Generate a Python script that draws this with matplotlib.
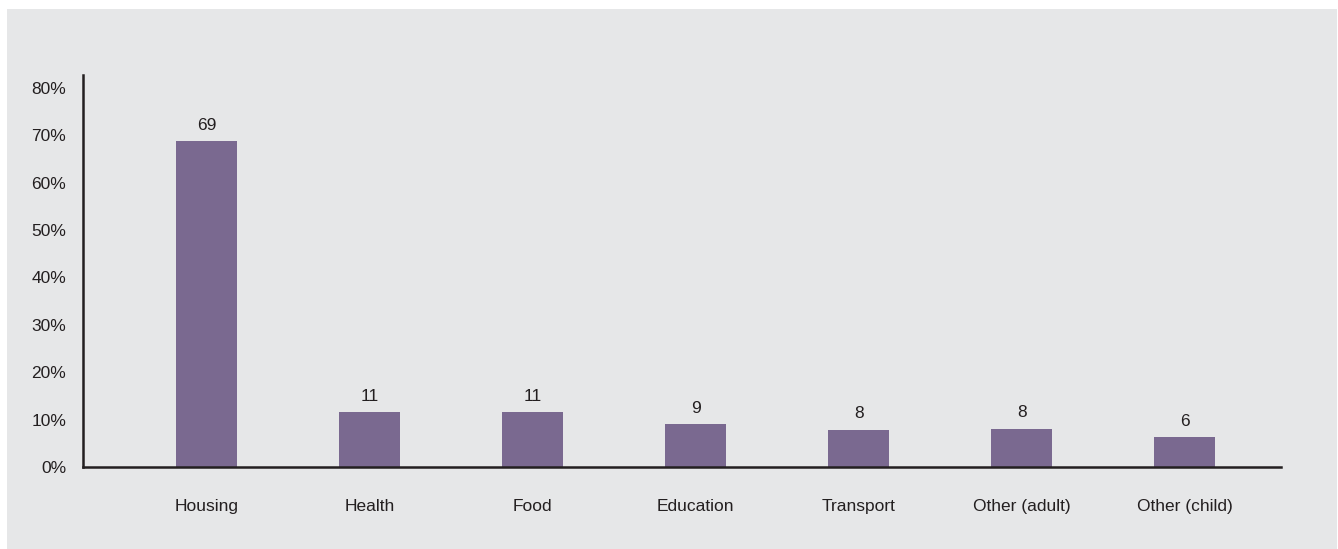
import matplotlib.pyplot as plt
from matplotlib.patches import Rectangle
from matplotlib import font_manager

categories = ['Housing', 'Health', 'Food', 'Education', 'Transport', 'Other (adult)', 'Other (child)']
values = [68.8, 11.6, 11.6, 9.1, 7.9, 8.1, 6.3]
value_labels = ['69', '11', '11', '9', '8', '8', '6']
yticks = [0, 10, 20, 30, 40, 50, 60, 70, 80]

BG = '#e6e7e8'
BAR = '#7a6990'
TXT = '#231f20'

names = {f.name for f in font_manager.fontManager.ttflist}
font = 'Liberation Sans Narrow' if 'Liberation Sans Narrow' in names else 'Liberation Sans'
plt.rcParams['font.family'] = [font, 'DejaVu Sans']

fig = plt.figure(figsize=(13.38, 5.49), dpi=100)
fig.patch.set_facecolor('white')
# grey panel, leaves thin white strip on top/left
fig.patches.append(Rectangle((7 / 1338, 0), 1330 / 1338, 540 / 549,
                             transform=fig.transFigure, facecolor=BG,
                             edgecolor='none', zorder=-10))

ax = fig.add_axes([83 / 1338, 82 / 549, 1198 / 1338, 392 / 549])
ax.set_facecolor('none')

x = list(range(len(categories)))
ax.bar(x, values, width=0.375, color=BAR, zorder=2)
for xi, v, lab in zip(x, values, value_labels):
    ax.annotate(lab, (xi, v), xytext=(0, 6), textcoords='offset points',
                ha='center', va='bottom', fontsize=12.5, color=TXT)

ax.set_xlim(-0.76, 6.59)
ax.set_ylim(0, 82.7)
ax.set_yticks(yticks)
ax.set_yticklabels([f'{t}%' for t in yticks])
ax.set_xticks(x)
ax.set_xticklabels(categories)

ax.tick_params(axis='y', length=0, pad=12, labelsize=12.5, labelcolor=TXT)
ax.tick_params(axis='x', length=0, pad=23, labelsize=12.5, labelcolor=TXT)

for s in ['top', 'right']:
    ax.spines[s].set_visible(False)
for s in ['left', 'bottom']:
    ax.spines[s].set_color(TXT)
    ax.spines[s].set_linewidth(1.8)

fig.savefig('out.png', dpi=100, facecolor=fig.get_facecolor())
